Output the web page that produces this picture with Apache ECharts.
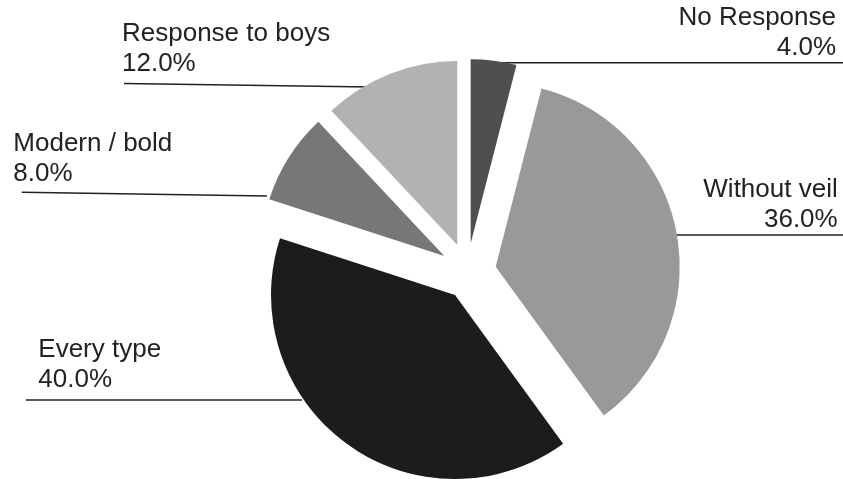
<!DOCTYPE html>
<html><head><meta charset="utf-8">
<script src="https://cdn.jsdelivr.net/npm/echarts@6/dist/echarts.min.js"></script>
<style>html,body{margin:0;padding:0;background:#fff}#c{width:843px;height:479px}</style>
</head><body><div id="c"></div>
<script>
// ---- data ----
const categories = ['No Response', 'Without veil', 'Every type', 'Modern / bold', 'Response to boys'];
const percentages = [4.0, 36.0, 40.0, 8.0, 12.0];

// ---- layout / style ----
const sliceColors = ['#4f4f4f', '#999999', '#1c1c1c', '#777777', '#b2b2b2'];
const sliceCenters = [[470.7, 243.3], [495.7, 266.7], [455, 295], [444.3, 256], [457.3, 245]];
const R = 184;
const labelSpecs = [
  { align: 'right', x: 836, top: 2.7, outerX: 843, outerY: 62.7, innerY: 62.7, inset: 12.6 },
  { align: 'right', x: 837.7, top: 175.3, outerX: 843, outerY: 235, innerY: 235, inset: 9 },
  { align: 'left', x: 38.3, top: 335.3, outerX: 25.7, outerY: 400, innerY: 400, inset: -2 },
  { align: 'left', x: 13.3, top: 129.3, outerX: 21.7, outerY: 192.3, innerY: 196, inset: -3.5 },
  { align: 'left', x: 122, top: 19.3, outerX: 124, outerY: 83.5, innerY: 87, inset: 7 }
];
const textColor = '#222222';

const chart = echarts.init(document.getElementById('c'), null, { renderer: 'canvas' });

const series = categories.map(function (name, si) {
  const spec = labelSpecs[si];
  const c = sliceCenters[si];
  return {
    type: 'pie',
    center: c,
    radius: [0, R],
    startAngle: 90,
    clockwise: true,
    silent: true,
    animation: false,
    avoidLabelOverlap: false,
    emphasis: { disabled: true },
    itemStyle: { borderWidth: 0 },
    label: {
      show: true,
      position: 'outside',
      fontFamily: 'Liberation Sans, Arial, sans-serif',
      fontSize: 26,
      lineHeight: 30,
      color: textColor,
      formatter: function (p) { return p.name + '\n' + p.value.toFixed(1) + '%'; }
    },
    labelLine: { show: true, lineStyle: { color: textColor, width: 1.6 } },
    labelLayout: function (params) {
      if (params.dataIndex !== si) return {};
      const dy = spec.innerY - c[1];
      const dx = Math.sqrt(Math.max(0, R * R - dy * dy));
      const right = spec.align === 'right';
      const innerX = right ? c[0] + dx - spec.inset : c[0] - dx + spec.inset;
      return {
        x: spec.x,
        y: spec.top,
        align: spec.align,
        verticalAlign: 'top',
        labelLinePoints: [[spec.outerX, spec.outerY], [innerX, spec.innerY], [innerX, spec.innerY]]
      };
    },
    data: categories.map(function (n, i) {
      const visible = i === si;
      return {
        name: n,
        value: percentages[i],
        itemStyle: { color: visible ? sliceColors[i] : 'rgba(0,0,0,0)' },
        label: { show: visible },
        labelLine: { show: visible }
      };
    })
  };
});

chart.setOption({
  backgroundColor: '#ffffff',
  animation: false,
  series: series
});
</script>
</body></html>
